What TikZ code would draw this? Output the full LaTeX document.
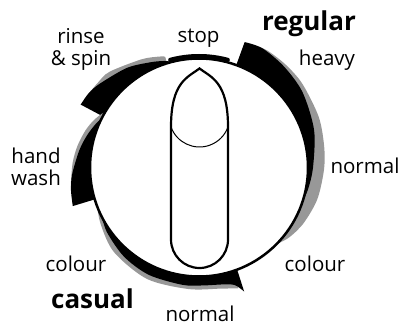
\documentclass[tikz,border=0pt]{standalone}
\usepackage{fontspec}
\setmainfont{Open Sans}
\definecolor{shade}{RGB}{152,152,152}
\tikzset{
  lbl/.style={font=\fontsize{20.5}{22}\selectfont, inner sep=0pt, anchor=base},
  blbl/.style={font=\fontsize{26}{28}\selectfont\bfseries, inner sep=0pt, anchor=base},
  shadow/.style={fill=shade},
  band/.style={fill=black}
}
\begin{document}
\begin{tikzpicture}[x=1pt,y=1pt]
\useasboundingbox (0,0) rectangle (401,327);
\begin{scope}[shift={(199,159.5)}]
% regular
\path[shadow] (66:108) -- plot[smooth] coordinates {(66:134) (60:135.5) (50:134.5) (39:133) (23:130) (10:127) (-1:125) (-15:122.5) (-28:118.5) (-38:114) (-46:108)} arc[start angle=-46,end angle=66,radius=108] -- cycle;
\path[band] (70:108) -- plot[smooth] coordinates {(70:133.5) (62:135) (50:132) (36:128) (18:121) (0:114) (-12:111) (-22:108)} arc[start angle=-22,end angle=70,radius=108] -- cycle;
% rinse & spin
\path[shadow] (149:108) -- plot[smooth] coordinates {(149:133.5) (140:132) (133:131) (118:122.5) (110:118) (107:116)} -- (107:108) arc[start angle=107,end angle=149,radius=108] -- cycle;
\path[band] (152:108) -- plot[smooth] coordinates {(152:134) (146:133) (140:130) (126:123) (115:116) (108:112) (103:108)} arc[start angle=103,end angle=152,radius=108] -- cycle;
% hand wash
\path[shadow] (188:108) -- plot[smooth] coordinates {(188:129.5) (178:126.5) (170:123.5) (162:119.5) (156:115.5) (151:111) (149:108)} arc[start angle=149,end angle=188,radius=108] -- cycle;
\path[band] (197:108) -- plot[smooth] coordinates {(197:132) (190:130) (183:127) (172:121) (164:116.5) (157:112) (152:108)} arc[start angle=152,end angle=197,radius=108] -- cycle;
% casual
\path[shadow] plot[smooth] coordinates {(198:108) (210:113.5) (225:120) (245:123) (265:122) (280:123) (288:127)} -- (288:108) arc[start angle=288,end angle=198,radius=108] -- cycle;
\path[band] plot[smooth] coordinates {(205:108) (215:112.5) (230:116.5) (245:118.5) (262:118.5) (272:118) (282:119.5) (287:123) (290:132)} -- (290.5:108) arc[start angle=290.5,end angle=205,radius=108] -- cycle;
% stop
\draw[line width=4pt, line cap=round] (75:111.5) arc[start angle=75,end angle=105,radius=111.5];
% dial
\draw[fill=white, line width=2.5pt] (0,0) circle[radius=109];
\end{scope}
% knob
\draw[line width=2.2pt, fill=white] (171,87.5) -- (171,200) .. controls (171,245) and (187.5,249.5) .. (199.5,258.5) .. controls (211.5,249.5) and (228,245) .. (228,200) -- (228,87.5) arc[start angle=0,end angle=-180,radius=28.5] -- cycle;
\draw[line width=1pt] (171,200) arc[start angle=199.9,end angle=340.1,radius=30.3];
\fill (199.5,258.5) circle[radius=1.4];
% labels
\node[lbl] (stop) at (198.5,284) {stop};
\node[lbl, align=center] (rinse) at (81,261) {rinse\\\& spin};
\node[blbl] (regular) at (309,296.3) {regular};
\node[lbl] (heavy) at (327,261.3) {heavy};
\node[lbl] (normalr) at (365,154) {normal};
\node[lbl, align=center] (hand) at (36,142) {hand\\wash};
\node[lbl] (colourl) at (76,56) {colour};
\node[blbl] (casual) at (92.5,19) {casual};
\node[lbl] (normalb) at (200,6) {normal};
\node[lbl] (colourr) at (315,56) {colour};
\end{tikzpicture}
\end{document}
